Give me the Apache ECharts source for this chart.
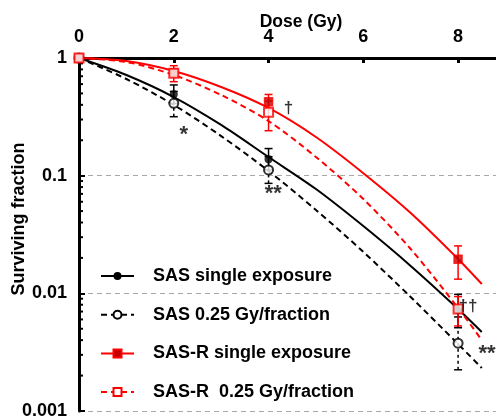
<!DOCTYPE html>
<html>
<head>
<meta charset="utf-8">
<script src="https://cdn.jsdelivr.net/npm/echarts@6/dist/echarts.min.js"></script>
<style>
  html, body { margin: 0; padding: 0; background: #fff; }
  #chart { width: 496px; height: 418px; }
</style>
</head>
<body>
<div id="chart"></div>
<script>
// dose ticks on the top axis
var xTicks = [0, 2, 4, 6, 8]

// measured points (dose, surviving fraction, error bar low / high)
var doseX = [0, 2, 4, 8]
var sasY = [1, 0.492, 0.138, 0.0072]
var sasLo = [1, 0.41, 0.112, 0.0051]
var sasHi = [1, 0.59, 0.17, 0.0098]
var sasFrY = [1, 0.412, 0.112, 0.00377]
var sasFrLo = [1, 0.317, 0.086, 0.00224]
var sasFrHi = [1, 0.52, 0.145, 0.0063]
var sasRY = [1, 0.75, 0.425, 0.0195]
var sasRLo = [1, 0.70, 0.37, 0.0132]
var sasRHi = [1, 0.80, 0.49, 0.0253]
var sasRFrY = [1, 0.741, 0.346, 0.00736]
var sasRFrLo = [1, 0.629, 0.241, 0.00528]
var sasRFrHi = [1, 0.86, 0.43, 0.00938]

// fitted curves
var fitX = [0, 1, 2, 3, 4, 5, 6, 7, 8, 8.5]
var fitSas = [1, 0.717, 0.466, 0.27, 0.144, 0.077, 0.0373, 0.0171, 0.00736, 0.00469]
var fitSasFr = [1, 0.663, 0.399, 0.217, 0.1096, 0.0511, 0.0225, 0.0093, 0.00371, 0.00232]
var fitSasR = [1, 0.943, 0.776, 0.567, 0.376, 0.213, 0.105, 0.0482, 0.0196, 0.012]
var fitSasRFr = [1, 0.925, 0.717, 0.485, 0.291, 0.144, 0.0633, 0.0238, 0.0075, 0.00401]

// significance marks
var markX = [2.21, 4.1, 4.42, 8.21, 8.61]
var markY = [0.24, 0.075, 0.376, 0.0077, 0.0033]
var markText = ['*', '**', '†', '††', '**']

var names = ['SAS single exposure', 'SAS 0.25 Gy/fraction', 'SAS-R single exposure', 'SAS-R  0.25 Gy/fraction']
var font = 'Liberation Sans'
var red = '#ff0000'
var fs = 18

function pairs (xs, ys) {
  var out = []
  for (var i = 0; i < xs.length; i++) out.push([xs[i], ys[i]])
  return out
}
function bars (xs, lo, hi) {
  var out = []
  for (var i = 0; i < xs.length; i++) out.push([xs[i], lo[i], hi[i]])
  return out
}

// log minor ticks 2..9 x 10^k
var minorVals = []
for (var k = -3; k < 0; k++) {
  for (var m = 2; m <= 9; m++) minorVals.push([0, m * Math.pow(10, k)])
}

function errorBar (color, dashed) {
  return function (params, api) {
    var x = api.value(0)
    var lo = api.value(1)
    var hi = api.value(2)
    if (lo === hi) return
    var p1 = api.coord([x, lo])
    var p2 = api.coord([x, hi])
    var st = { stroke: color, lineWidth: 1.5, lineDash: dashed ? [3, 3] : null }
    var cst = { stroke: color, lineWidth: 1.5 }
    return {
      type: 'group',
      children: [
        { type: 'line', shape: { x1: p1[0], y1: p1[1], x2: p2[0], y2: p2[1] }, style: st },
        { type: 'line', shape: { x1: p1[0] - 4, y1: p1[1], x2: p1[0] + 4, y2: p1[1] }, style: cst },
        { type: 'line', shape: { x1: p2[0] - 4, y1: p2[1], x2: p2[0] + 4, y2: p2[1] }, style: cst }
      ]
    }
  }
}

function curve (name, data, color, dashed, symbol, itemStyle) {
  return {
    name: name,
    type: 'line',
    data: data,
    smooth: 0.3,
    showSymbol: false,
    symbol: symbol,
    symbolSize: 8,
    itemStyle: itemStyle,
    lineStyle: { color: color, width: 2, type: dashed ? [6, 4] : 'solid' },
    z: 2,
    silent: true
  }
}

function points (name, data, symbol, size, itemStyle) {
  return {
    name: name,
    type: 'scatter',
    data: data,
    symbol: symbol,
    symbolSize: size,
    itemStyle: itemStyle,
    z: 5
  }
}

var chart = echarts.init(document.getElementById('chart'))
var option = {
  animation: false,
  textStyle: { fontFamily: font },
  grid: { left: 79, right: 0, top: 58, bottom: 7, outerBoundsMode: 'none', containLabel: false },
  xAxis: {
    type: 'value',
    position: 'top',
    min: 0,
    max: 8.8,
    name: 'Dose (Gy)',
    nameLocation: 'middle',
    nameGap: 27,
    nameMoveOverlap: false,
    nameTextStyle: { fontFamily: font, fontWeight: 'bold', fontSize: 17.5, color: '#000', padding: [0, 0, 0, 27] },
    axisLine: { onZero: false, lineStyle: { color: '#000', width: 3 } },
    axisTick: { inside: true, length: 5, customValues: xTicks, lineStyle: { width: 3, color: '#000' } },
    axisLabel: { customValues: xTicks, margin: 12, fontFamily: font, fontWeight: 'bold', fontSize: fs, color: '#000' },
    splitLine: { show: false }
  },
  yAxis: {
    type: 'log',
    logBase: 10,
    min: 0.001,
    max: 1,
    name: 'Surviving fraction',
    nameLocation: 'middle',
    nameGap: 51,
    nameMoveOverlap: false,
    nameTextStyle: { fontFamily: font, fontWeight: 'bold', fontSize: fs, color: '#000', padding: [0, 0, 0, 31] },
    axisLine: { onZero: false, lineStyle: { color: '#000', width: 3 } },
    axisTick: { inside: true, length: 6, lineStyle: { width: 2, color: '#000' } },
    axisLabel: {
      margin: 12,
      fontFamily: font,
      fontWeight: 'bold',
      fontSize: fs,
      color: '#000',
      formatter: function (v) { return String(Number(v.toPrecision(1))) }
    },
    splitLine: { show: true, lineStyle: { color: '#a8a8a8', width: 1, type: [5, 4] } }
  },
  legend: {
    orient: 'vertical',
    left: 95,
    top: 262,
    itemWidth: 33,
    itemHeight: 10,
    itemGap: 20.7,
    selectedMode: false,
    data: names,
    textStyle: { fontFamily: font, fontWeight: 'bold', fontSize: fs, color: '#000', padding: [0, 0, 0, 14] }
  },
  series: [
    curve(names[0], pairs(fitX, fitSas), '#000', false, 'circle', { color: '#000' }),
    curve(names[1], pairs(fitX, fitSasFr), '#000', true, 'emptyCircle', { color: '#000' }),
    curve(names[2], pairs(fitX, fitSasR), red, false, 'rect', { color: '#c00000', borderColor: red, borderWidth: 1 }),
    curve(names[3], pairs(fitX, fitSasRFr), red, true, 'emptyRect', { color: red }),
    { type: 'custom', renderItem: errorBar('#000', false), data: bars(doseX, sasLo, sasHi), z: 3, silent: true },
    { type: 'custom', renderItem: errorBar('#000', true), data: bars(doseX, sasFrLo, sasFrHi), z: 3, silent: true },
    { type: 'custom', renderItem: errorBar(red, false), data: bars(doseX, sasRLo, sasRHi), z: 3, silent: true },
    { type: 'custom', renderItem: errorBar(red, false), data: bars(doseX, sasRFrLo, sasRFrHi), z: 3, silent: true },
    points(names[0], pairs(doseX, sasY), 'circle', 8, { color: '#000' }),
    points(names[1], pairs(doseX, sasFrY), 'circle', 9, { color: '#fff', borderColor: '#000', borderWidth: 2 }),
    points(names[2], pairs(doseX, sasRY), 'rect', 8, { color: '#c00000', borderColor: red, borderWidth: 1.5 }),
    points(names[3], pairs(doseX, sasRFrY), 'rect', 9, { color: '#fff', borderColor: red, borderWidth: 2 }),
    {
      type: 'scatter',
      data: markX.map(function (x, i) {
        var star = markText[i].charAt(0) === '*'
        return {
          value: [x, markY[i]],
          label: { formatter: markText[i], fontSize: star ? 22 : 17, offset: [0, star ? 4 : 0] }
        }
      }),
      symbolSize: 0,
      silent: true,
      z: 6,
      label: {
        show: true,
        position: 'inside',
        fontFamily: font,
        fontWeight: 'bold',
        color: '#000'
      }
    },
    {
      type: 'custom',
      silent: true,
      z: 4,
      data: minorVals,
      renderItem: function (params, api) {
        var p = api.coord([api.value(0), api.value(1)])
        return {
          type: 'line',
          shape: { x1: p[0], y1: p[1], x2: p[0] + 4, y2: p[1] },
          style: { stroke: '#000', lineWidth: 2 }
        }
      }
    }
  ]
}
chart.setOption(option)
</script>
</body>
</html>
